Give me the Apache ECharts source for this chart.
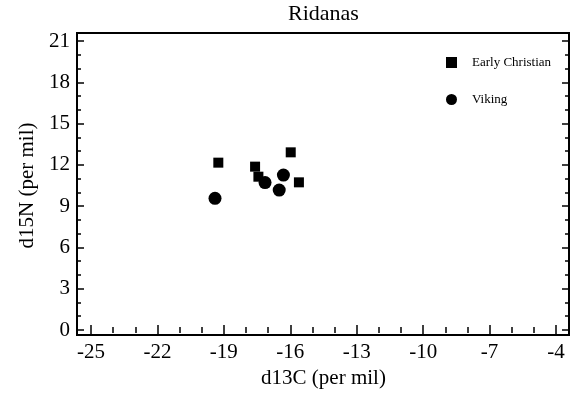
<!DOCTYPE html>
<html>
<head>
<meta charset="utf-8">
<script src="https://cdn.jsdelivr.net/npm/echarts@6/dist/echarts.min.js"></script>
<style>
html,body{margin:0;padding:0;background:#fff;}
#chart{width:577px;height:399px;}
</style>
</head>
<body>
<div id="chart"></div>
<script>
const chartTitle = 'Ridanas';
const xAxisName = 'd13C (per mil)';
const yAxisName = 'd15N (per mil)';
const seriesNames = ['Early Christian', 'Viking'];
const earlyChristian = [
  [-19.25, 12.16],
  [-17.59, 11.87],
  [-17.44, 11.14],
  [-15.98, 12.91],
  [-15.61, 10.73]
];
const viking = [
  [-19.40, 9.57],
  [-17.14, 10.71],
  [-16.31, 11.26],
  [-16.50, 10.17]
];
const xRange = [-25, -4];
const yRange = [0, 21];
const tickStep = 3;

const FONT = 'Liberation Serif';
const chart = echarts.init(document.getElementById('chart'));

function tickAxis(base, majorLen, minorLen, showLabels) {
  return Object.assign({
    gridIndex: 0,
    interval: tickStep,
    axisLine: { show: false },
    axisTick: { show: true, inside: true, length: majorLen, lineStyle: { color: '#000', width: 1.5 } },
    minorTick: { show: true, splitNumber: 3, length: minorLen, lineStyle: { color: '#000', width: 1.5 } },
    splitLine: { show: false },
    minorSplitLine: { show: false },
    axisLabel: { show: showLabels, color: '#000', fontFamily: FONT, fontSize: 21, margin: 7 }
  }, base);
}

const option = {
  animation: false,
  backgroundColor: '#fff',
  title: {
    text: chartTitle,
    left: 288,
    top: 3,
    padding: 0,
    textStyle: { fontFamily: FONT, fontSize: 22, fontWeight: 'normal', color: '#000' }
  },
  legend: {
    orient: 'vertical',
    left: 441,
    top: 51,
    itemWidth: 11,
    itemHeight: 11,
    itemGap: 24,
    textStyle: { fontFamily: FONT, fontSize: 13, color: '#000', padding: [0, 0, 0, 10] },
    data: [
      { name: seriesNames[0], icon: 'rect', itemStyle: { opacity: 1 } },
      { name: seriesNames[1], icon: 'circle', itemStyle: { opacity: 1 } }
    ]
  },
  grid: [
    { left: 91, right: 21, top: 41, bottom: 69, show: false },
    { left: 77, right: 8, top: 33, bottom: 64, show: true, borderColor: '#000', borderWidth: 2, backgroundColor: 'transparent' }
  ],
  xAxis: [
    tickAxis({ type: 'value', position: 'bottom', min: xRange[0], max: xRange[1], offset: 5,
      name: xAxisName, nameLocation: 'middle', nameGap: 33,
      nameTextStyle: { fontFamily: FONT, fontSize: 21, color: '#000' } }, 5, 3, true),
    tickAxis({ type: 'value', position: 'top', min: xRange[0], max: xRange[1], offset: 8 }, 5, 3, false),
    { type: 'value', gridIndex: 1, show: false, min: 0, max: 1 }
  ],
  yAxis: [
    tickAxis({ type: 'value', position: 'left', min: yRange[0], max: yRange[1], offset: 14,
      name: yAxisName, nameLocation: 'middle', nameGap: 39, nameRotate: 90,
      nameTextStyle: { fontFamily: FONT, fontSize: 21, color: '#000' } }, 7, 4, true),
    tickAxis({ type: 'value', position: 'right', min: yRange[0], max: yRange[1], offset: 13 }, 7, 4, false),
    { type: 'value', gridIndex: 1, show: false, min: 0, max: 1 }
  ],
  series: [
    {
      name: seriesNames[0], type: 'scatter', xAxisIndex: 0, yAxisIndex: 0,
      symbol: 'rect', symbolSize: 10,
      itemStyle: { color: '#000', opacity: 1 },
      data: earlyChristian
    },
    {
      name: seriesNames[1], type: 'scatter', xAxisIndex: 0, yAxisIndex: 0,
      symbol: 'circle', symbolSize: 13,
      itemStyle: { color: '#000', opacity: 1 },
      data: viking
    }
  ]
};
chart.setOption(option);
</script>
</body>
</html>
